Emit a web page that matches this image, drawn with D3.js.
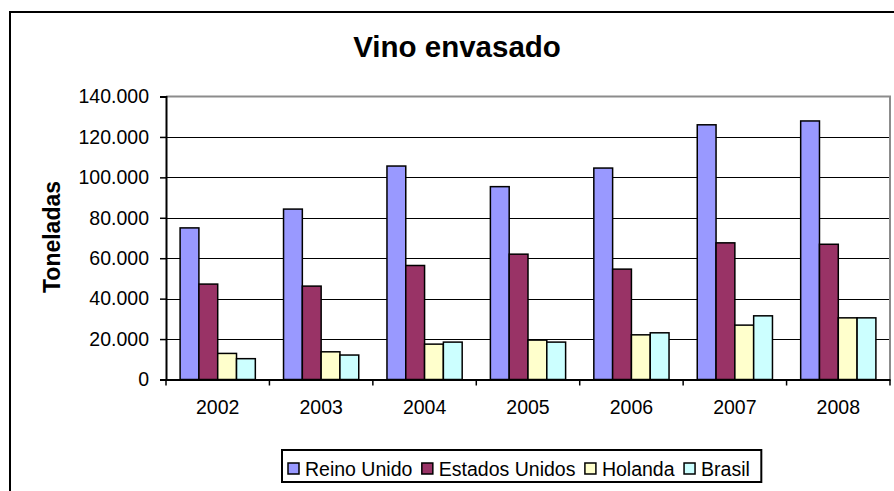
<!DOCTYPE html>
<html>
<head>
<meta charset="utf-8">
<script src="https://cdn.jsdelivr.net/npm/d3@7"></script>
<style>
  body { margin: 0; background: #fff; }
  svg { display: block; font-family: "Liberation Sans", Arial, sans-serif; }
</style>
</head>
<body>
<svg id="chart" width="894" height="491"></svg>
<script>
// data
var years = ["2002", "2003", "2004", "2005", "2006", "2007", "2008"];
var seriesNames = ["Reino Unido", "Estados Unidos", "Holanda", "Brasil"];
var seriesColors = ["#9999FF", "#993366", "#FFFFCC", "#CCFFFF"];
var reinoUnido = [75000, 84300, 105600, 95400, 104600, 126000, 127900];
var estadosUnidos = [47200, 46200, 56400, 62000, 54600, 67600, 66900];
var holanda = [12900, 13700, 17500, 19500, 22100, 26900, 30500];
var brasil = [10300, 12100, 18500, 18500, 23100, 31500, 30500];
var yTicks = [0, 20000, 40000, 60000, 80000, 100000, 120000, 140000];

var values = [reinoUnido, estadosUnidos, holanda, brasil];

var svg = d3.select("#chart");
var plot = {left: 166, right: 890, top: 96.5, bottom: 379.5};

// outer chart border (right/bottom run off the picture)
svg.append("rect")
  .attr("x", 10).attr("y", 12)
  .attr("width", 900).attr("height", 500)
  .attr("fill", "#fff")
  .attr("stroke", "#000").attr("stroke-width", 2);

var x0 = d3.scaleBand().domain(years).range([plot.left, plot.right]).padding(0);
var x1 = d3.scaleBand().domain(seriesNames).range([0, x0.bandwidth()])
  .paddingInner(0).paddingOuter(0.75);
var y = d3.scaleLinear().domain([0, 140000]).range([plot.bottom, plot.top]);

var fmt = function(d) { return d3.format(",")(d).replace(/,/g, "."); };

// gridlines
svg.append("g").selectAll("line")
  .data(yTicks.filter(function(d) { return d > 0 && d < 140000; }))
  .enter().append("line")
  .attr("x1", plot.left).attr("x2", plot.right)
  .attr("y1", function(d) { return Math.round(y(d)) + 0.5; })
  .attr("y2", function(d) { return Math.round(y(d)) + 0.5; })
  .attr("stroke", "#000").attr("stroke-width", 1);

// top + right border of plot area (grey)
svg.append("path")
  .attr("d", "M" + plot.left + "," + (y(140000)) + "H" + plot.right + "V" + plot.bottom)
  .attr("fill", "none").attr("stroke", "#8c8c8c").attr("stroke-width", 2);

// bars
var groups = svg.append("g").selectAll("g")
  .data(years)
  .enter().append("g")
  .attr("transform", function(d) { return "translate(" + x0(d) + ",0)"; });

groups.selectAll("rect")
  .data(function(d, i) {
    return seriesNames.map(function(s, j) { return {name: s, value: values[j][i], color: seriesColors[j]}; });
  })
  .enter().append("rect")
  .attr("x", function(d) { return x1(d.name); })
  .attr("width", x1.bandwidth())
  .attr("y", function(d) { return y(d.value); })
  .attr("height", function(d) { return plot.bottom - y(d.value); })
  .attr("fill", function(d) { return d.color; })
  .attr("stroke", "#000").attr("stroke-width", 1.5);

// y axis
var yAxis = svg.append("g")
  .attr("transform", "translate(" + plot.left + ",0)")
  .call(d3.axisLeft(y).tickValues(yTicks).tickFormat(fmt).tickSize(6).tickPadding(11));
yAxis.select(".domain").attr("stroke-width", 2);
yAxis.selectAll(".tick line").attr("stroke-width", 1.5);
yAxis.selectAll("text").attr("font-size", 19.5).attr("fill", "#000")
  .attr("font-family", "Liberation Sans, Arial, sans-serif");

// x axis
var xAxis = svg.append("g")
  .attr("transform", "translate(0," + plot.bottom + ")")
  .call(d3.axisBottom(x0).tickSize(0).tickPadding(21));
xAxis.select(".domain").attr("stroke-width", 2);
xAxis.selectAll("text").attr("font-size", 19.5).attr("fill", "#000")
  .attr("font-family", "Liberation Sans, Arial, sans-serif");

// category boundary ticks
svg.append("g").selectAll("line")
  .data(years.concat(["end"]))
  .enter().append("line")
  .attr("x1", function(d, i) { return plot.left + i * x0.step(); })
  .attr("x2", function(d, i) { return plot.left + i * x0.step(); })
  .attr("y1", plot.bottom).attr("y2", plot.bottom + 6)
  .attr("stroke", "#000").attr("stroke-width", 1.5);

// title
svg.append("text")
  .attr("x", 457).attr("y", 57)
  .attr("text-anchor", "middle")
  .attr("font-size", 29.5).attr("font-weight", "bold")
  .text("Vino envasado");

// y axis title
svg.append("text")
  .attr("transform", "translate(60,237) rotate(-90)")
  .attr("text-anchor", "middle")
  .attr("font-size", 23).attr("font-weight", "bold")
  .text("Toneladas");

// legend
var legend = svg.append("g");
var legendBox = legend.append("rect")
  .attr("fill", "#fff").attr("stroke", "#000").attr("stroke-width", 2);

var lx = 288;
seriesNames.forEach(function(s, i) {
  legend.append("rect")
    .attr("x", lx).attr("y", 463)
    .attr("width", 11).attr("height", 11)
    .attr("fill", seriesColors[i])
    .attr("stroke", "#000").attr("stroke-width", 1.5);
  var t = legend.append("text")
    .attr("x", lx + 17).attr("y", 475.5)
    .attr("font-size", 19.5)
    .text(s);
  lx += 17 + t.node().getComputedTextLength() + 9.5;
});
legendBox.attr("x", 282).attr("y", 450)
  .attr("width", lx - 282 + 2).attr("height", 32);
</script>
</body>
</html>
